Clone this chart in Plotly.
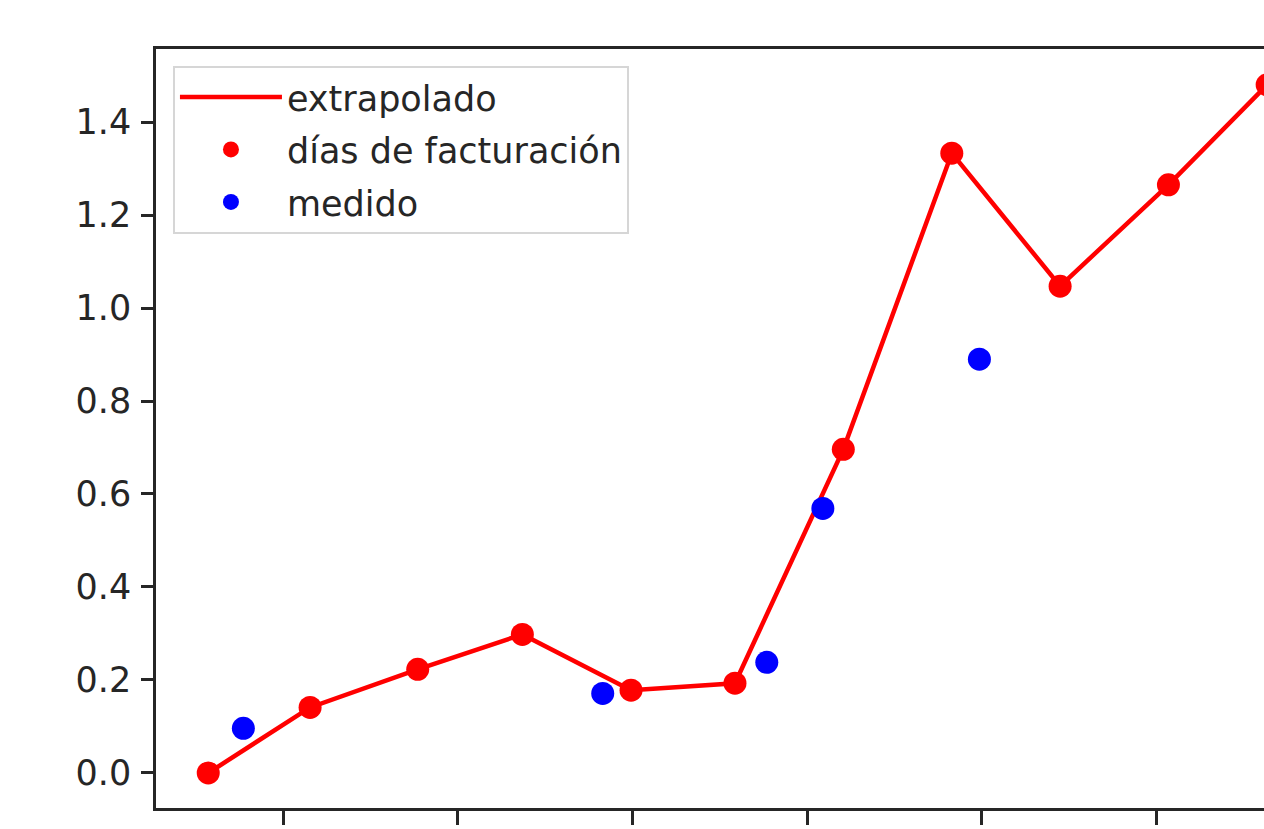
import plotly.graph_objects as go

# Billing-period days (x) and consumption values (y)
dias_facturacion = [57.2, 115.5, 177.1, 237.0, 299.2, 358.7, 420.7, 482.8, 544.8, 606.8, 663.3]
valores_facturacion = [0.0, 0.141, 0.223, 0.298, 0.178, 0.193, 0.696, 1.333, 1.047, 1.265, 1.480]

dias_medido = [77.3, 283.0, 376.9, 409.0, 498.6]
valores_medido = [0.096, 0.171, 0.238, 0.569, 0.890]

x_ticks = [100, 200, 300, 400, 500, 600]
y_ticks = [0.0, 0.2, 0.4, 0.6, 0.8, 1.0, 1.2, 1.4]
y_labels = ["0.0", "0.2", "0.4", "0.6", "0.8", "1.0", "1.2", "1.4"]

RED = "#ff0000"
BLUE = "#0000ff"
FONT = "DejaVu Sans"
INK = "#262626"

fig = go.Figure()

fig.add_trace(go.Scatter(
    x=dias_facturacion, y=valores_facturacion, mode="lines",
    name="extrapolado", line=dict(color=RED, width=4.5),
    legendgroup="a",
))
fig.add_trace(go.Scatter(
    x=dias_facturacion, y=valores_facturacion, mode="markers",
    name="días de facturación", marker=dict(color=RED, size=23),
    legendgroup="b",
))
fig.add_trace(go.Scatter(
    x=dias_medido, y=valores_medido, mode="markers",
    name="medido", marker=dict(color=BLUE, size=23),
    legendgroup="c",
))

fig.update_layout(
    width=1264, height=829,
    margin=dict(l=156, r=0, t=49, b=21),
    paper_bgcolor="white", plot_bgcolor="white",
    font=dict(family=FONT, size=35, color=INK),
    showlegend=True,
    legend=dict(
        x=0.0153, y=0.978, xanchor="left", yanchor="top",
        bgcolor="rgba(255,255,255,0.8)",
        bordercolor="#d6d6d6", borderwidth=2,
        font=dict(family=FONT, size=35, color=INK),
        traceorder="grouped", tracegroupgap=4,
        itemwidth=102,
    ),
)

fig.update_xaxes(
    range=[27.3, 661.5], tickvals=x_ticks, showticklabels=False,
    ticks="outside", ticklen=14, tickwidth=2.5, tickcolor=INK,
    showline=True, linewidth=2.5, linecolor=INK, mirror=True,
    showgrid=False, zeroline=False,
)
fig.update_yaxes(
    range=[-0.0753, 1.557], tickvals=y_ticks, ticktext=y_labels,
    ticks="outside", ticklen=12, tickwidth=2.5, tickcolor=INK,
    showline=True, linewidth=2.5, linecolor=INK, mirror=False,
    showgrid=False, zeroline=False, ticklabelstandoff=3,
    tickfont=dict(family=FONT, size=35, color=INK),
)

fig.write_html("out.html")
